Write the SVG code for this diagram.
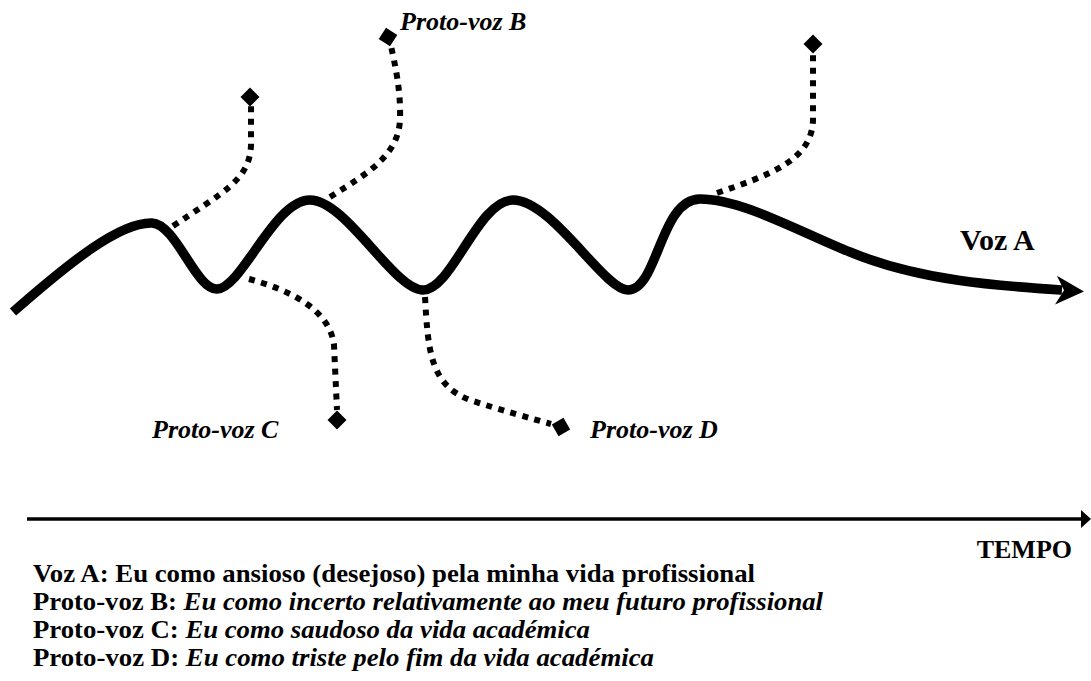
<svg xmlns="http://www.w3.org/2000/svg" width="1091" height="681" viewBox="0 0 1091 681">
<style>
  .voice { fill: none; stroke: #000; stroke-width: 9.5; stroke-linecap: butt; stroke-linejoin: round; }
  .proto { fill: none; stroke: #000; stroke-width: 6; stroke-dasharray: 6 6.5; }
  .axis { fill: none; stroke: #000; stroke-width: 3.5; }
  .dia { fill: #000; }
  .lbl { font-family: "Liberation Serif", "Times New Roman", serif; font-weight: bold; font-style: italic; font-size: 26px; fill: #000; }
  .main { font-family: "Liberation Serif", "Times New Roman", serif; font-weight: bold; font-size: 30px; fill: #000; }
  .tempo { font-family: "Liberation Serif", "Times New Roman", serif; font-weight: bold; font-size: 26px; fill: #000; }
  .leg { font-family: "Liberation Serif", "Times New Roman", serif; font-weight: bold; font-size: 24.5px; fill: #000; }
  .it { font-style: italic; }
</style>
<defs>
  <marker id="bigArrow" markerUnits="userSpaceOnUse" markerWidth="40" markerHeight="40" viewBox="-10 -20 40 40" refX="0" refY="0" orient="auto">
    <path d="M22,0 L-6,-14 L2,0 L-6,15 Z" fill="#000"/>
  </marker>
  <marker id="axisArrow" markerUnits="userSpaceOnUse" markerWidth="20" markerHeight="20" viewBox="-5 -10 20 20" refX="0" refY="0" orient="auto">
    <path d="M-2,-9 L8,0 L-2,9 Z" fill="#000"/>
  </marker>
  <path id="diamond" d="M0,-9.5 L9.5,0 L0,9.5 L-9.5,0 Z"/>
</defs>

<g id="connectors">
  <path id="voz-a" class="voice" marker-end="url(#bigArrow)" d="M13,312 C 70,262 120,222 152,223 C 176,224 196,290 217,289 C 242,288 274,200 310,200 C 346,200 394,290 423,290 C 452,290 478,200 513,200 C 552,200 604,290 628,290 C 658,290 660,199 700,199 C 742,199 800,232 850,252 C 920,281 1000,286 1062,290"/>
  <path id="link-1" class="proto" d="M173,226 C 222,193 250,180 251,145 L 251,106"/>
  <path id="link-b" class="proto" d="M330,197 C 370,172 398,155 400,120 C 401,90 395,65 391,46"/>
  <path id="link-4" class="proto" d="M717,193 C 770,175 812,160 813,120 L 813,53"/>
  <path id="link-c" class="proto" d="M249,279 C 290,290 330,310 334,345 L 337,410"/>
  <path id="link-d" class="proto" d="M425,297 C 428,350 430,385 470,400 C 500,410 530,418 551,424"/>
  <path id="time-axis" class="axis" marker-end="url(#axisArrow)" d="M27,519 L1083,519"/>
</g>

<g id="node-1"><use href="#diamond" class="dia" transform="translate(250,97)"/></g>
<g id="node-b">
  <use href="#diamond" class="dia" transform="translate(388,37) rotate(-12)"/>
  <text class="lbl" x="400" y="30">Proto-voz B</text>
</g>
<g id="node-4"><use href="#diamond" class="dia" transform="translate(813,44)"/></g>
<g id="node-c">
  <use href="#diamond" class="dia" transform="translate(337,420)"/>
  <text class="lbl" x="152" y="438">Proto-voz C</text>
</g>
<g id="node-d">
  <use href="#diamond" class="dia" transform="translate(561,427) rotate(15)"/>
  <text class="lbl" x="590" y="438">Proto-voz D</text>
</g>
<g id="node-a">
  <text class="main" x="960" y="250">Voz A</text>
</g>
<g id="tempo">
  <text class="tempo" x="1072" y="558" text-anchor="end">TEMPO</text>
</g>

<g id="legend">
  <text class="leg" x="33" y="582" textLength="722" lengthAdjust="spacingAndGlyphs">Voz A: Eu como ansioso (desejoso) pela minha vida profissional</text>
  <text class="leg" x="33" y="610" textLength="790" lengthAdjust="spacingAndGlyphs">Proto-voz B: <tspan class="it">Eu como incerto relativamente ao meu futuro profissional</tspan></text>
  <text class="leg" x="33" y="638" textLength="557" lengthAdjust="spacingAndGlyphs">Proto-voz C: <tspan class="it">Eu como saudoso da vida académica</tspan></text>
  <text class="leg" x="33" y="666" textLength="621" lengthAdjust="spacingAndGlyphs">Proto-voz D: <tspan class="it">Eu como triste pelo fim da vida académica</tspan></text>
</g>
</svg>
